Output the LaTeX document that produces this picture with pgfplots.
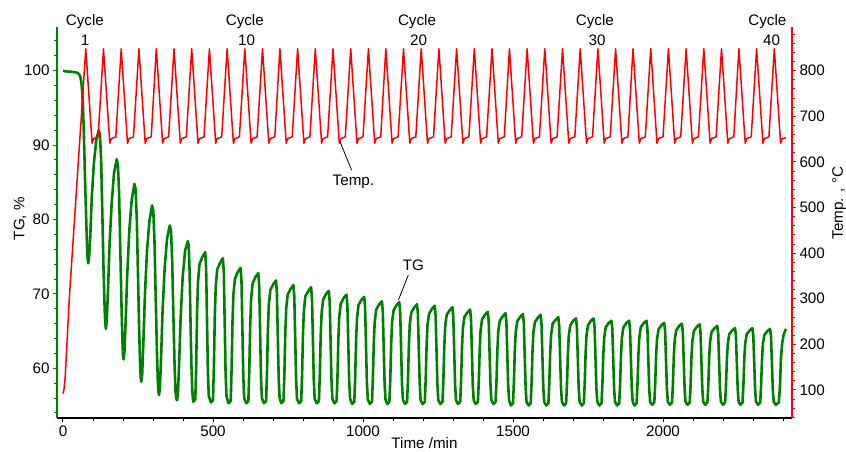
\documentclass[border=0pt]{standalone}
\usepackage{fontspec}
\setmainfont{Liberation Sans}
\usepackage{pgfplots}
\pgfplotsset{compat=1.18}
\definecolor{tggreen}{RGB}{0,128,0}
\definecolor{tempred}{RGB}{255,0,0}

\begin{document}
\begin{tikzpicture}[font=\fontsize{15.2}{18}\selectfont]
\pgfplotsset{
  base/.style={
    at={(0,0)}, anchor=south west, scale only axis,
    width=735pt, height=391pt,
    xmin=-20, xmax=2430, clip=false,
    tick align=outside, major tick length=4pt, minor tick length=3pt,
    /pgf/number format/assume math mode=true,
    /pgf/number format/1000 sep={}, scaled ticks=false,
    axis line style={-, line width=1.5pt},
  },
}

% bottom time axis
\begin{axis}[base, ymin=0, ymax=1,
  axis y line=none, axis x line*=bottom,
  x axis line style={black},
  xtick={0,500,1000,1500,2000},
  minor xtick={100,200,...,2400},
  tick style={black, line width=1pt},
  xlabel={Time /min},
  xlabel style={at={(axis description cs:0.5,-0.079)}, anchor=base},
]
\end{axis}

% TG, left axis
\begin{axis}[base, ymin=53.32, ymax=105.87,
  axis x line=none, axis y line*=left,
  y axis line style={tggreen},
  ytick={60,70,80,90,100},
  minor ytick={54,56,...,104},
  tick style={tggreen, line width=1pt},
  ylabel={TG, \%},
  ylabel style={at={(axis description cs:-0.0503,0.51)}, anchor=center},
]
\addplot[tggreen, line width=2.6pt, line join=round] coordinates {
(0,100.0) (10,99.9) (30,99.85) (45,99.75) (52,99.6) (57,99.3) (61,98.5) (64,97.2) (67,94.8) (70,91) (73,86) (77,80.5) (80,76.5) (82,74.8) (84,74.1)
(87,74.9) (91,77.8) (96,83) (103,87.6) (111,90.7) (119,92.0)
(123,91.5) (127,88.2) (131,81) (135,73.5) (139,67.8) (141,66) (143,65.3)
(146,66.4) (150,70.5) (155,76.5) (162,82) (170,86.2) (179,88.1)
(183,87.4) (187,83.5) (191,76) (195,68.5) (198,63.8) (200,61.8) (202,61.2)
(205,62.3) (209,66.5) (214,72.5) (221,78.5) (229,82.6) (238,84.8)
(242,84.1) (246,80) (250,72.5) (254,65) (257,60.5) (259,58.8) (261,58.2)
(264,59.3) (268,63.5) (273,69.8) (280,75.8) (288,79.8) (297,81.9)
(301,81.2) (305,77) (309,69.5) (313,62.5) (316,58.4) (318,56.9) (320,56.4)
(323,57.3) (327,61.5) (332,67.8) (339,73.6) (347,77.5) (356,79.2)
(360,78.5) (364,74.3) (368,67) (372,60.3) (375,57) (377,56) (380,55.7)
(383,56.5) (387,60.5) (392,66.7) (399,72.3) (407,75.8) (416,77.1)
(419,76.5) (422,73) (425,66.5) (428,60.5) (431,57)
(434,55.5) (441,55.8) (444,60.5) (447,67.6) (450,71.6) (455,74.0) (465,75.0) (474,75.6) (477,73.6) (480,66.6) (483,59.5) (486,56.3)
(493,55.4) (500,55.7) (503,60.3) (506,67.0) (509,70.9) (514,73.3) (524,74.2) (533,74.8) (536,72.9) (539,66.1) (542,59.3) (545,56.2)
(552,55.3) (559,55.6) (562,59.9) (565,66.2) (568,69.9) (573,72.0) (583,73.0) (592,73.5) (595,71.7) (598,65.3) (601,58.9) (604,56.0)
(611,55.3) (618,55.6) (621,59.7) (624,65.8) (627,69.3) (632,71.4) (642,72.3) (651,72.8) (654,71.1) (657,64.9) (660,58.8) (663,56.0)
(670,55.3) (677,55.6) (680,59.4) (683,65.2) (686,68.5) (691,70.5) (701,71.3) (710,71.8) (713,70.2) (716,64.4) (719,58.6) (722,56.0)
(728,55.3) (735,55.6) (738,59.3) (741,64.8) (744,68.0) (749,69.9) (759,70.7) (768,71.2) (771,69.6) (774,64.1) (777,58.5) (780,55.9)
(787,55.3) (794,55.6) (797,59.2) (800,64.7) (803,67.8) (808,69.7) (818,70.4) (827,70.9) (830,69.3) (833,63.9) (836,58.4) (839,55.9)
(846,55.3) (853,55.6) (856,59.1) (859,64.4) (862,67.4) (867,69.2) (877,70.0) (886,70.4) (889,68.9) (892,63.6) (895,58.3) (898,55.9)
(905,55.3) (912,55.6) (915,59.0) (918,64.1) (921,67.0) (926,68.7) (936,69.5) (945,69.9) (948,68.4) (951,63.3) (954,58.2) (957,55.9)
(964,55.2) (971,55.5) (974,58.8) (977,63.8) (980,66.7) (985,68.5) (995,69.2) (1004,69.6) (1007,68.2) (1010,63.1) (1013,58.1) (1016,55.8)
(1023,55.2) (1030,55.5) (1033,58.7) (1036,63.5) (1039,66.2) (1044,67.9) (1054,68.6) (1063,69.0) (1066,67.6) (1069,62.8) (1072,58.0) (1075,55.8)
(1081,55.2) (1088,55.5) (1091,58.6) (1094,63.4) (1097,66.2) (1102,67.8) (1112,68.5) (1121,68.9) (1124,67.5) (1127,62.7) (1130,57.9) (1133,55.8)
(1140,55.2) (1147,55.5) (1150,58.6) (1153,63.2) (1156,65.9) (1161,67.5) (1171,68.2) (1180,68.6) (1183,67.3) (1186,62.6) (1189,57.9) (1192,55.7)
(1199,55.2) (1206,55.5) (1209,58.5) (1212,63.1) (1215,65.8) (1220,67.3) (1230,68.0) (1239,68.4) (1242,67.1) (1245,62.5) (1248,57.8) (1251,55.7)
(1258,55.2) (1265,55.5) (1268,58.5) (1271,63.0) (1274,65.6) (1279,67.2) (1289,67.8) (1298,68.2) (1301,66.9) (1304,62.4) (1307,57.8) (1310,55.7)
(1317,55.2) (1324,55.5) (1327,58.4) (1330,62.8) (1333,65.4) (1338,66.9) (1348,67.5) (1357,67.9) (1360,66.6) (1363,62.2) (1366,57.7) (1369,55.7)
(1376,55.2) (1383,55.5) (1386,58.3) (1389,62.6) (1392,65.1) (1397,66.6) (1407,67.2) (1416,67.6) (1419,66.4) (1422,62.0) (1425,57.7) (1428,55.7)
(1435,55.2) (1442,55.5) (1445,58.3) (1448,62.5) (1451,65.0) (1456,66.4) (1466,67.0) (1475,67.4) (1478,66.2) (1481,61.9) (1484,57.6) (1487,55.7)
(1493,55.0) (1500,55.3) (1503,58.1) (1506,62.4) (1509,64.8) (1514,66.3) (1524,66.9) (1533,67.3) (1536,66.1) (1539,61.8) (1542,57.5) (1545,55.5)
(1552,55.0) (1559,55.3) (1562,58.1) (1565,62.3) (1568,64.8) (1573,66.2) (1583,66.8) (1592,67.2) (1595,66.0) (1598,61.7) (1601,57.4) (1604,55.5)
(1611,55.0) (1618,55.3) (1621,58.0) (1624,62.1) (1627,64.5) (1632,66.0) (1642,66.5) (1651,66.9) (1654,65.7) (1657,61.5) (1660,57.4) (1663,55.5)
(1670,55.0) (1677,55.3) (1680,57.9) (1683,62.0) (1686,64.4) (1691,65.8) (1701,66.4) (1710,66.7) (1713,65.5) (1716,61.4) (1719,57.3) (1722,55.5)
(1729,55.0) (1736,55.3) (1739,57.9) (1742,62.0) (1745,64.4) (1750,65.8) (1760,66.4) (1769,66.7) (1772,65.5) (1775,61.4) (1778,57.3) (1781,55.5)
(1788,55.0) (1795,55.3) (1798,57.9) (1801,61.8) (1804,64.1) (1809,65.5) (1819,66.1) (1828,66.4) (1831,65.3) (1834,61.3) (1837,57.3) (1840,55.5)
(1847,55.0) (1854,55.3) (1857,57.9) (1860,61.8) (1863,64.1) (1868,65.5) (1878,66.1) (1887,66.4) (1890,65.3) (1893,61.3) (1896,57.3) (1899,55.5)
(1905,55.0) (1912,55.3) (1915,57.9) (1918,61.8) (1921,64.1) (1926,65.5) (1936,66.1) (1945,66.4) (1948,65.3) (1951,61.3) (1954,57.3) (1957,55.5)
(1964,55.1) (1971,55.4) (1974,57.9) (1977,61.7) (1980,63.9) (1985,65.2) (1995,65.8) (2004,66.1) (2007,65.0) (2010,61.2) (2013,57.3) (2016,55.5)
(2023,55.1) (2030,55.4) (2033,57.8) (2036,61.6) (2039,63.8) (2044,65.1) (2054,65.7) (2063,66.0) (2066,64.9) (2069,61.1) (2072,57.3) (2075,55.5)
(2082,55.1) (2089,55.4) (2092,57.8) (2095,61.6) (2098,63.7) (2103,65.0) (2113,65.6) (2122,65.9) (2125,64.8) (2128,61.0) (2131,57.3) (2134,55.5)
(2141,55.1) (2148,55.4) (2151,57.8) (2154,61.5) (2157,63.6) (2162,64.9) (2172,65.4) (2181,65.7) (2184,64.6) (2187,60.9) (2190,57.2) (2193,55.5)
(2200,55.1) (2207,55.4) (2210,57.7) (2213,61.3) (2216,63.3) (2221,64.6) (2231,65.1) (2240,65.4) (2243,64.4) (2246,60.8) (2249,57.2) (2252,55.5)
(2258,55.1) (2265,55.4) (2268,57.7) (2271,61.3) (2274,63.3) (2279,64.6) (2289,65.1) (2298,65.4) (2301,64.4) (2304,60.8) (2307,57.2) (2310,55.5)
(2317,55.1) (2324,55.4) (2327,57.7) (2330,61.2) (2333,63.3) (2338,64.5) (2348,65.0) (2357,65.3) (2360,64.3) (2363,60.7) (2366,57.1) (2369,55.5)
(2376,55.1) (2386,55.4) (2390,57.7) (2393,61.2) (2397,63.3) (2402,64.5) (2410,65.3)
};
\draw[black, line width=0.8pt] (axis cs:1151,72.54) -- (axis cs:1118,69.18);
\node[anchor=base] at (axis cs:1168,73.1) {TG};
\end{axis}

% temperature, right axis
\begin{axis}[base, ymin=38.6, ymax=895.8,
  axis x line=none, axis y line*=right,
  y axis line style={tempred},
  ytick={100,200,...,800},
  minor ytick={40,60,...,880},
  tick style={tempred, line width=1pt},
  ylabel={Temp. , °C},
  ylabel style={at={(axis description cs:1.064,0.55)}, anchor=center},
]
\addplot[tempred, line width=1.5pt, line join=round] coordinates {
(0,92) (3,100) (7,125) (21,300) (43,520) (76,848)
(97,641) (99,645) (102,651) (117,655) (135,848)
(156,641) (158,645) (161,651) (176,655) (194,848)
(215,641) (217,645) (220,651) (235,655) (253,848)
(274,641) (276,645) (279,651) (294,655) (311,848)
(332,641) (334,645) (337,651) (352,655) (370,848)
(391,641) (393,645) (396,651) (411,655) (429,848)
(450,641) (452,645) (455,651) (470,655) (488,848)
(509,641) (511,645) (514,651) (529,655) (547,848)
(568,641) (570,645) (573,651) (588,655) (606,848)
(627,641) (629,645) (632,651) (647,655) (665,848)
(686,641) (688,645) (691,651) (706,655) (723,848)
(744,641) (746,645) (749,651) (764,655) (782,848)
(803,641) (805,645) (808,651) (823,655) (841,848)
(862,641) (864,645) (867,651) (882,655) (900,848)
(921,641) (923,645) (926,651) (941,655) (959,848)
(980,641) (982,645) (985,651) (1000,655) (1018,848)
(1039,641) (1041,645) (1044,651) (1059,655) (1076,848)
(1097,641) (1099,645) (1102,651) (1117,655) (1135,848)
(1156,641) (1158,645) (1161,651) (1176,655) (1194,848)
(1215,641) (1217,645) (1220,651) (1235,655) (1253,848)
(1274,641) (1276,645) (1279,651) (1294,655) (1312,848)
(1333,641) (1335,645) (1338,651) (1353,655) (1371,848)
(1392,641) (1394,645) (1397,651) (1412,655) (1430,848)
(1451,641) (1453,645) (1456,651) (1471,655) (1488,848)
(1509,641) (1511,645) (1514,651) (1529,655) (1547,848)
(1568,641) (1570,645) (1573,651) (1588,655) (1606,848)
(1627,641) (1629,645) (1632,651) (1647,655) (1665,848)
(1686,641) (1688,645) (1691,651) (1706,655) (1724,848)
(1745,641) (1747,645) (1750,651) (1765,655) (1783,848)
(1804,641) (1806,645) (1809,651) (1824,655) (1842,848)
(1863,641) (1865,645) (1868,651) (1883,655) (1900,848)
(1921,641) (1923,645) (1926,651) (1941,655) (1959,848)
(1980,641) (1982,645) (1985,651) (2000,655) (2018,848)
(2039,641) (2041,645) (2044,651) (2059,655) (2077,848)
(2098,641) (2100,645) (2103,651) (2118,655) (2136,848)
(2157,641) (2159,645) (2162,651) (2177,655) (2195,848)
(2216,641) (2218,645) (2221,651) (2236,655) (2253,848)
(2274,641) (2276,645) (2279,651) (2294,655) (2312,848)
(2333,641) (2335,645) (2338,651) (2353,655) (2371,848)
(2392,641) (2394,645) (2397,651) (2410,653)
};
\draw[black, line width=0.8pt] (axis cs:923,645) -- (axis cs:962,582);
\node[anchor=base] at (axis cs:968,548) {Temp.};
% cycle labels
\node[anchor=base] at (axis cs:73,900) {Cycle};
\node[anchor=base] at (axis cs:74,856) {1};
\node[anchor=base] at (axis cs:606,900) {Cycle};
\node[anchor=base] at (axis cs:612,856) {10};
\node[anchor=base] at (axis cs:1180,900) {Cycle};
\node[anchor=base] at (axis cs:1185,856) {20};
\node[anchor=base] at (axis cs:1773,900) {Cycle};
\node[anchor=base] at (axis cs:1780,856) {30};
\node[anchor=base] at (axis cs:2348,900) {Cycle};
\node[anchor=base] at (axis cs:2362,856) {40};
\end{axis}

\pgfresetboundingbox
\useasboundingbox (-57pt,-34pt) rectangle (789pt,418pt);
\end{tikzpicture}
\end{document}
